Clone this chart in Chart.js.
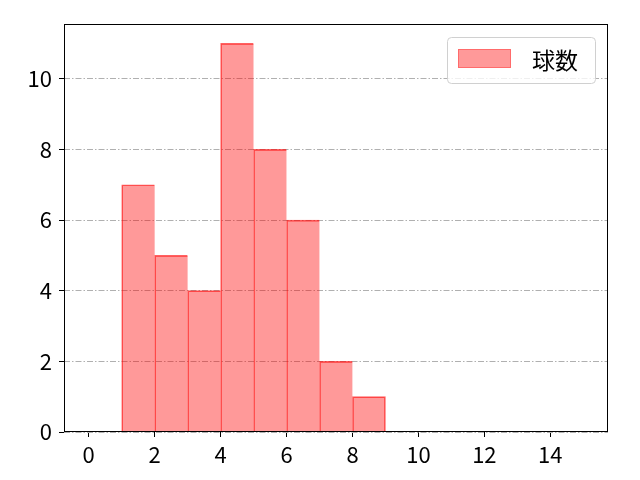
<!DOCTYPE html>
<html>
<head>
<meta charset="UTF-8">
<title>球数</title>
<script src="https://cdn.jsdelivr.net/npm/chart.js"></script>
<style>
html, body { margin: 0; padding: 0; background: #fff; }
#wrap { width: 640px; height: 480px; }
</style>
</head>
<body>
<div id="wrap"><canvas id="myChart" width="640" height="480"></canvas></div>
<script>
// histogram bins (left edges + last right edge) and counts
var binEdges = [1, 2, 3, 4, 5, 6, 7, 8, 9];
var counts = [7, 5, 4, 11, 8, 6, 2, 1];
var xTicks = [0, 2, 4, 6, 8, 10, 12, 14];
var yTicks = [0, 2, 4, 6, 8, 10];
var seriesLabel = '球数';

var FONT = '"Noto Sans CJK JP", "Noto Sans", sans-serif';

var points = [];
for (let i = 0; i < counts.length; i++) {
  points.push({ x: (binEdges[i] + binEdges[i + 1]) / 2, y: counts[i] });
}

// frame around plot area + legend inside (matplotlib style)
var framePlugin = {
  id: 'frame',
  afterDraw: function(chart) {
    var ctx = chart.ctx, a = chart.chartArea;
    ctx.save();
    ctx.strokeStyle = '#000';
    ctx.lineWidth = 1;
    ctx.strokeRect(Math.round(a.left) + 0.5, Math.round(a.top) + 0.5,
      Math.round(a.right - a.left) - 1, Math.round(a.bottom - a.top) - 1);

    // legend box
    var x = 447.5, y = 37.5, w = 148, h = 46, r = 4;
    ctx.beginPath();
    ctx.moveTo(x + r, y);
    ctx.lineTo(x + w - r, y);
    ctx.quadraticCurveTo(x + w, y, x + w, y + r);
    ctx.lineTo(x + w, y + h - r);
    ctx.quadraticCurveTo(x + w, y + h, x + w - r, y + h);
    ctx.lineTo(x + r, y + h);
    ctx.quadraticCurveTo(x, y + h, x, y + h - r);
    ctx.lineTo(x, y + r);
    ctx.quadraticCurveTo(x, y, x + r, y);
    ctx.closePath();
    ctx.fillStyle = 'rgba(255,255,255,0.8)';
    ctx.fill();
    ctx.strokeStyle = '#d0d0d0';
    ctx.stroke();

    ctx.fillStyle = 'rgba(255,0,0,0.4)';
    ctx.fillRect(458, 49, 53, 19);
    ctx.strokeStyle = 'rgba(255,0,0,0.3)';
    ctx.strokeRect(458.5, 49.5, 52, 18);

    ctx.fillStyle = '#000';
    ctx.font = '23px ' + FONT;
    ctx.textBaseline = 'middle';
    ctx.textAlign = 'left';
    ctx.fillText(seriesLabel, 532, 60);
    ctx.restore();
  }
};

new Chart(document.getElementById('myChart'), {
  type: 'bar',
  data: {
    datasets: [{
      label: seriesLabel,
      data: points,
      backgroundColor: 'rgba(255,0,0,0.4)',
      borderColor: 'rgba(255,0,0,0.62)',
      borderWidth: function(c) {
        var last = c.dataIndex === counts.length - 1;
        return { top: 1, left: 1, right: last ? 1 : 0, bottom: 0 };
      },
      borderSkipped: false,
      barPercentage: 1,
      categoryPercentage: 1
    }]
  },
  options: {
    responsive: false,
    animation: false,
    layout: { padding: { top: 24, right: 32, left: 0, bottom: 0 } },
    plugins: {
      legend: { display: false },
      tooltip: { enabled: false }
    },
    scales: {
      x: {
        type: 'linear',
        min: -0.75,
        max: 15.75,
        offset: false,
        afterBuildTicks: function(scale) {
          scale.ticks = xTicks.map(function(v) { return { value: v }; });
        },
        afterFit: function(scale) { scale.height = 48; },
        grid: {
          offset: false,
          drawOnChartArea: false,
          tickLength: 5,
          tickColor: '#000',
          tickWidth: 1
        },
        border: { display: false },
        ticks: {
          color: '#000',
          padding: 4,
          maxRotation: 0,
          autoSkip: false,
          font: { family: FONT, size: 22 }
        }
      },
      y: {
        min: 0,
        max: 11.55,
        afterBuildTicks: function(scale) {
          scale.ticks = yTicks.map(function(v) { return { value: v }; });
        },
        afterFit: function(scale) { scale.width = 64; },
        grid: {
          color: '#b0b0b0',
          lineWidth: 1,
          tickLength: 5,
          tickColor: '#000',
          tickWidth: 1,
          tickBorderDash: []
        },
        border: { display: false, dash: [6, 2, 1.5, 2] },
        ticks: {
          color: '#000',
          padding: 7,
          autoSkip: false,
          font: { family: FONT, size: 22 }
        }
      }
    }
  },
  plugins: [framePlugin]
});
</script>
</body>
</html>
